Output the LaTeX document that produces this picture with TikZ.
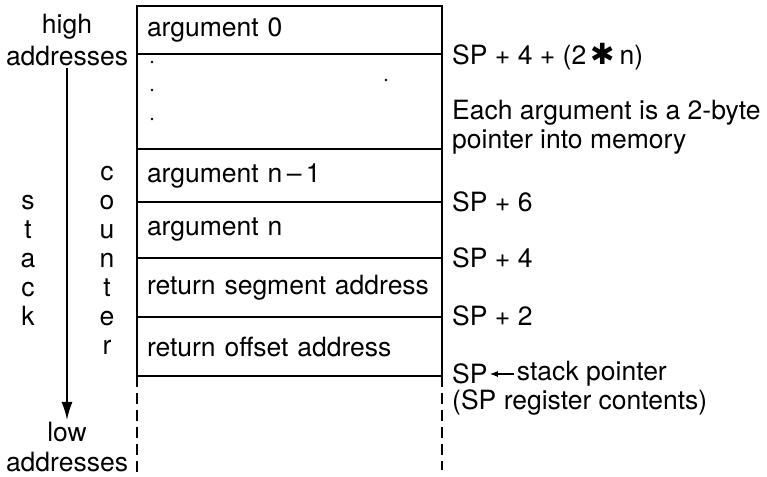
\documentclass[tikz,border=0pt]{standalone}
\usepackage{fontspec}
\setmainfont{TeX Gyre Heros}
\newfontfamily\symfont{DejaVu Sans}
\usetikzlibrary{arrows.meta,positioning}

\tikzset{
  cell/.style={draw, rectangle, minimum width=305pt, text width=285pt, align=left,
    inner xsep=10pt, outer sep=0pt, line width=1.6pt},
  lbl/.style={inner sep=0pt, anchor=west, align=left},
  side/.style={inner sep=2pt, align=center},
  dashline/.style={line width=1.4pt, dash pattern=on 11pt off 6pt},
}

\begin{document}
\begin{tikzpicture}[x=1pt, y=-1pt, node distance=0pt, font=\fontsize{26.5}{29}\selectfont]
  \useasboundingbox (0,0) rectangle (767,476);

  % Cells
  \node[cell, minimum height=48pt] (a0) at (289.5,30) {argument 0};
  \node[cell, minimum height=95pt, below=of a0] (gap) {};
  \node[cell, minimum height=53pt, below=of gap] (an1) {argument n\thinspace–\thinspace1};
  \node[cell, minimum height=56pt, below=of an1] (an) {argument n};
  \node[cell, minimum height=59pt, below=of an] (seg) {return segment address};
  \node[cell, minimum height=59pt, below=of seg] (off) {return offset address};

  % Dots
  \foreach \y in {62,90,119}
    \fill (152,\y) circle (1.3pt);
  \fill (386,80) circle (1.3pt);

  % Dashed continuation
  \coordinate (dl) at (137,476);
  \coordinate (dr) at (442,470);
  \draw[dashline] (off.south west) -- (off.south west |- dl);
  \draw[dashline] (off.south east) -- (off.south east |- dr);

  % Right labels
  \node[lbl, right=10pt of a0.south east, yshift=-3pt] (spn) {SP + 4 + (2\,{\symfont\scalebox{1.1}{✱}}\,n)};
  \node[lbl] (each) at (452,127) {Each argument is a 2-byte\\pointer into memory};
  \node[lbl, right=10pt of an1.south east] (sp6) {SP + 6};
  \node[lbl, right=10pt of an.south east] (sp4) {SP + 4};
  \node[lbl, right=10pt of seg.south east, yshift=1pt] (sp2) {SP + 2};
  \node[lbl, right=10pt of off.south east, yshift=2pt] (sp) {SP};
  \node[lbl, right=29pt of sp.east] (spname) {stack pointer};
  \node[lbl] (spreg) at (452,402) {(SP register contents)};
  \draw[-{Latex[length=8pt,width=6pt]}, line width=1.3pt, shorten >=2pt, shorten <=3pt]
    (spname.west) -- (sp.east);

  % Left labels
  \node[side] (high) at (67,27) {high};
  \node[side] (hiaddr) at (67,56) {addresses};
  \node[side] (low) at (67,432) {low};
  \node[side] (loaddr) at (67,462) {addresses};
  \node[side] (stk) at (28,260) {s\\t\\a\\c\\k};
  \node[side] (cnt) at (107,260) {c\\o\\u\\n\\t\\e\\r};
  \draw[-{Latex[length=18pt,width=11pt]}, line width=1.6pt] (hiaddr) -- (low);
\end{tikzpicture}
\end{document}
